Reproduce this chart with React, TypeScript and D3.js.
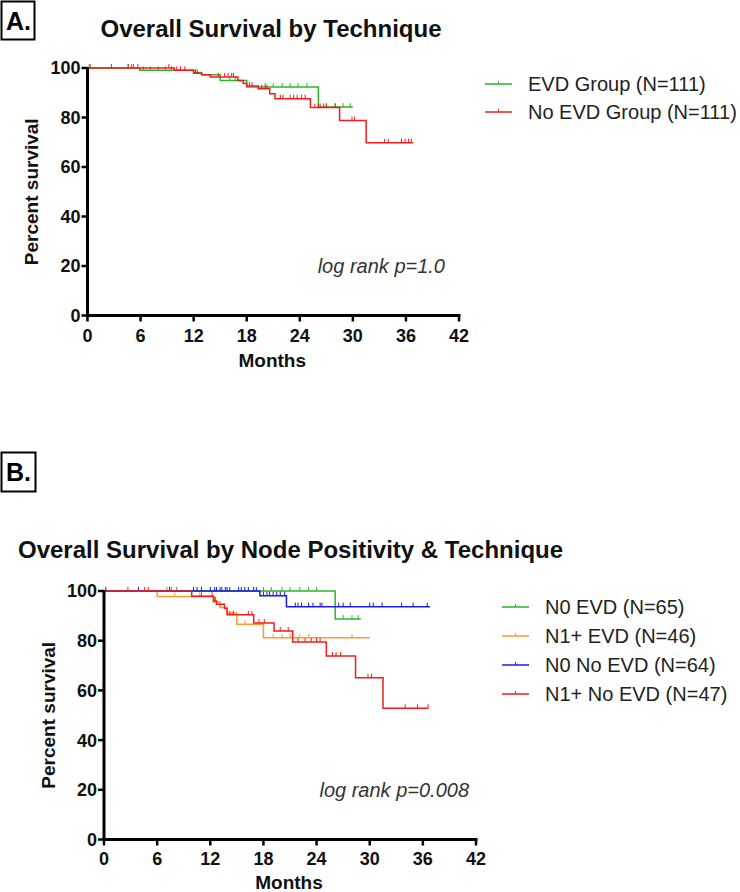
import React from "react";
import * as d3 from "d3";

// ---------- Panel A data ----------
const A_EVD_T = [0, 5.9, 12.0, 12.9, 15.0, 18.0, 26.1, 30.0];
const A_EVD_S = [100, 99.1, 98.2, 97.3, 95.0, 92.3, 84.2, 84.2];
const A_EVD_CENS = [0.2, 4.6, 5.2, 6.3, 7.1, 8.0, 8.8, 9.5, 16.1, 16.7, 20.1, 21.0, 22.0, 22.9, 23.8, 24.8, 27.0, 28.0, 28.9, 29.7];

const A_NOEVD_T = [0, 9.8, 12.0, 12.9, 13.9, 17.0, 17.6, 18.0, 19.3, 20.6, 21.2, 25.2, 28.5, 31.5, 36.8];
const A_NOEVD_S = [100, 99.1, 97.9, 97.3, 96.4, 95.0, 93.7, 92.7, 91.6, 89.6, 87.6, 84.0, 78.8, 69.8, 69.8];
const A_NOEVD_CENS = [0.3, 2.7, 4.6, 5.0, 5.7, 9.2, 10.1, 10.5, 11.0, 12.2, 12.4, 14.8, 15.5, 15.9, 16.3, 16.5, 18.3, 18.6, 19.7, 20.1, 20.3, 21.8, 22.1, 22.9, 23.3, 23.7, 24.2, 24.6, 25.7, 26.1, 26.3, 26.7, 27.0, 28.0, 29.9, 30.2, 33.6, 34.0, 35.5, 35.9, 36.3, 36.6];

// ---------- Panel B data ----------
const B_N0EVD_T = [0, 26.1, 29.0];
const B_N0EVD_S = [100, 88.7, 88.7];
const B_N0EVD_CENS = [7.1, 7.6, 8.2, 18.0, 18.9, 20.1, 21.0, 22.1, 23.1, 24.0, 27.0, 28.0, 28.7];

const B_N1EVD_T = [0, 6.0, 12.3, 13.1, 13.9, 15.0, 18.0, 30.0];
const B_N1EVD_S = [100, 97.8, 95.6, 93.4, 91.1, 86.6, 81.2, 81.2];
const B_N1EVD_CENS = [8.0, 10.8, 15.9, 19.1, 20.1, 21.0, 22.1, 23.1, 28.0];

const B_N0NO_T = [0, 17.6, 20.6, 36.8];
const B_N0NO_S = [100, 98.1, 93.7, 93.7];
const B_N0NO_CENS = [0.2, 3.9, 7.4, 10.1, 10.5, 11.0, 12.0, 12.5, 12.7, 13.1, 13.3, 13.7, 13.9, 14.2, 15.2, 15.5, 15.9, 16.3, 16.9, 17.2, 18.0, 18.4, 18.7, 19.1, 19.5, 19.9, 20.4, 21.6, 21.9, 22.3, 23.1, 23.6, 24.4, 24.6, 26.5, 27.0, 27.8, 30.0, 30.4, 31.4, 33.6, 34.9, 36.5];

const B_N1NO_T = [0, 9.9, 12.4, 12.7, 13.6, 13.9, 16.9, 19.2, 21.3, 25.1, 28.4, 31.5, 36.6];
const B_N1NO_S = [100, 97.9, 96.0, 94.7, 93.0, 90.4, 87.1, 83.9, 79.5, 73.8, 65.1, 52.8, 52.8];
const B_N1NO_CENS = [2.7, 4.6, 5.0, 11.0, 12.2, 12.6, 14.2, 14.6, 16.3, 16.7, 17.5, 18.1, 19.9, 20.8, 21.9, 22.7, 23.4, 24.0, 24.4, 25.8, 26.2, 26.7, 29.8, 30.2, 34.0, 35.4, 36.6];

const X_TICKS = [0, 6, 12, 18, 24, 30, 36, 42];
const Y_TICKS = [0, 20, 40, 60, 80, 100];

const A_LABELS = ["EVD Group (N=111)", "No EVD Group (N=111)"];
const B_LABELS = ["N0 EVD (N=65)", "N1+ EVD (N=46)", "N0 No EVD (N=64)", "N1+ No EVD (N=47)"];

const GREEN = "#2db42d";
const RED = "#f01c1c";
const ORANGE = "#ff9a30";
const BLUE = "#1a1ae0";

const FONT = "'Liberation Sans', Arial, Helvetica, sans-serif";

type Series = { t: number[]; s: number[]; c: number[]; color: string };

function survAt(t: number[], s: number[], x: number) {
  let v = s[0];
  for (let i = 0; i < t.length; i++) if (t[i] <= x) v = s[i];
  return v;
}

function Panel(props: {
  x0: number; x1: number; yTop: number; yBot: number;
  series: Series[]; logText: string; logX: number; logY: number;
  xLabelY: number; yLabelX: number; monthsY: number;
}) {
  const { x0, x1, yTop, yBot, series } = props;
  const x = d3.scaleLinear().domain([0, 42]).range([x0, x1]);
  const y = d3.scaleLinear().domain([0, 100]).range([yBot, yTop]);
  const line = d3.line<[number, number]>().x((d) => x(d[0])).y((d) => y(d[1])).curve(d3.curveStepAfter);
  return (
    <g>
      {series.map((se, i) => (
        <g key={i}>
          <path d={line(se.t.map((tt, j) => [tt, se.s[j]]) as [number, number][]) || ""} fill="none" stroke={se.color} strokeWidth={1.5} />
          {se.c.map((ct, j) => {
            const yy = y(survAt(se.t, se.s, ct));
            return <line key={j} x1={x(ct)} x2={x(ct)} y1={yy} y2={yy - 4} stroke={se.color} strokeWidth={1} />;
          })}
        </g>
      ))}
      {/* axes */}
      <line x1={x0} x2={x0} y1={yTop - 1} y2={yBot + 1.5} stroke="#000" strokeWidth={3} />
      <line x1={x0 - 1.5} x2={x1 + 1.5} y1={yBot} y2={yBot} stroke="#000" strokeWidth={3} />
      {Y_TICKS.map((v) => (
        <g key={v}>
          <line x1={x0 - 6} x2={x0} y1={y(v)} y2={y(v)} stroke="#000" strokeWidth={2.5} />
          <text x={x0 - 7} y={y(v)} dy="0.36em" textAnchor="end" fontFamily={FONT} fontWeight="bold" fontSize={18} fill="#111">{v}</text>
        </g>
      ))}
      {X_TICKS.map((v) => (
        <g key={v}>
          <line x1={x(v)} x2={x(v)} y1={yBot} y2={yBot + 6} stroke="#000" strokeWidth={2.5} />
          <text x={x(v)} y={props.xLabelY} textAnchor="middle" fontFamily={FONT} fontWeight="bold" fontSize={18} fill="#111">{v}</text>
        </g>
      ))}
      <text x={(x0 + x1) / 2 - 1} y={props.monthsY} textAnchor="middle" fontFamily={FONT} fontWeight="bold" fontSize={19} fill="#111">Months</text>
      <text transform={`translate(${props.yLabelX},${(yTop + yBot) / 2}) rotate(-90)`} textAnchor="middle" fontFamily={FONT} fontWeight="bold" fontSize={19} fill="#111">Percent survival</text>
      <text x={props.logX} y={props.logY} textAnchor="end" fontFamily={FONT} fontStyle="italic" fontSize={20} fill="#333">{props.logText}</text>
    </g>
  );
}

function Legend(props: { x: number; ys: number[]; labels: string[]; colors: string[] }) {
  return (
    <g>
      {props.labels.map((lab, i) => {
        const yy = props.ys[i];
        const lx0 = props.x;
        const lx1 = props.x + 27;
        return (
          <g key={i}>
            <line x1={lx0} x2={lx1} y1={yy} y2={yy} stroke={props.colors[i]} strokeWidth={1.5} />
            <line x1={(lx0 + lx1) / 2} x2={(lx0 + lx1) / 2} y1={yy} y2={yy - 3} stroke={props.colors[i]} strokeWidth={1} />
            <text x={lx1 + 16} y={yy} dy="0.36em" fontFamily={FONT} fontSize={20} fill="#222">{lab}</text>
          </g>
        );
      })}
    </g>
  );
}

export default function App() {
  const seriesA: Series[] = [
    { t: A_EVD_T, s: A_EVD_S, c: A_EVD_CENS, color: GREEN },
    { t: A_NOEVD_T, s: A_NOEVD_S, c: A_NOEVD_CENS, color: RED },
  ];
  const seriesB: Series[] = [
    { t: B_N0EVD_T, s: B_N0EVD_S, c: B_N0EVD_CENS, color: GREEN },
    { t: B_N1EVD_T, s: B_N1EVD_S, c: B_N1EVD_CENS, color: ORANGE },
    { t: B_N0NO_T, s: B_N0NO_S, c: B_N0NO_CENS, color: BLUE },
    { t: B_N1NO_T, s: B_N1NO_S, c: B_N1NO_CENS, color: RED },
  ];
  return (
    <svg width={740} height={892} style={{ position: "absolute", left: 0, top: 0, background: "#fff" }}>
      <rect x={0} y={0} width={740} height={892} fill="#fff" />
      {/* Panel A */}
      <rect x={1.5} y={1.5} width={33} height={38} fill="none" stroke="#000" strokeWidth={2} />
      <text x={6} y={30} fontFamily={FONT} fontWeight="bold" fontSize={25} fill="#000">A.</text>
      <text x={271} y={37} textAnchor="middle" fontFamily={FONT} fontWeight="bold" fontSize={24} fill="#111">Overall Survival by Technique</text>
      <Panel x0={87.5} x1={459} yTop={68} yBot={315.5} series={seriesA} logText="log rank p=1.0" logX={445} logY={273} xLabelY={342} yLabelX={38} monthsY={367} />
      <Legend x={485} ys={[84, 112]} labels={A_LABELS} colors={[GREEN, RED]} />

      {/* Panel B */}
      <rect x={1.5} y={452.5} width={34} height={39} fill="none" stroke="#000" strokeWidth={2} />
      <text x={6} y={481} fontFamily={FONT} fontWeight="bold" fontSize={25} fill="#000">B.</text>
      <text x={18} y={558} fontFamily={FONT} fontWeight="bold" fontSize={24} fill="#111">Overall Survival by Node Positivity &amp; Technique</text>
      <Panel x0={104} x1={476} yTop={591} yBot={839.5} series={seriesB} logText="log rank p=0.008" logX={469} logY={797} xLabelY={865} yLabelX={55} monthsY={889} />
      <Legend x={502} ys={[607, 636, 665, 694]} labels={B_LABELS} colors={[GREEN, ORANGE, BLUE, RED]} />
    </svg>
  );
}
